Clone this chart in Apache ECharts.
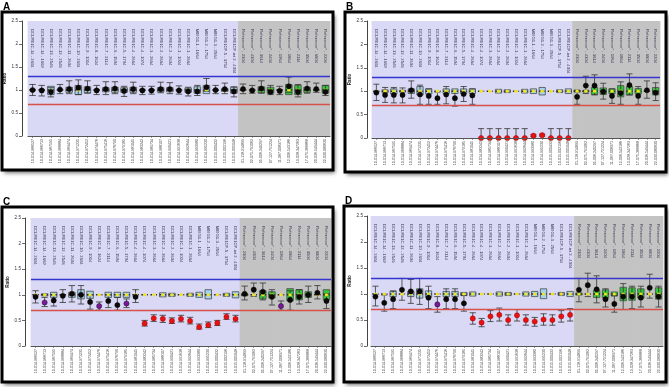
<!DOCTYPE html>
<html><head><meta charset="utf-8">
<script src="https://cdn.jsdelivr.net/npm/echarts@6/dist/echarts.min.js"></script>
<style>html,body{margin:0;padding:0;background:#fff}#c{width:669px;height:387px}</style>
</head><body><div id="c"></div><script>
// ---- categories ----
const testProbes = ['DCLRE1C-14 - 2604','DCLRE1C-14 - 1669','DCLRE1C-13 - 2546','DCLRE1C-12 - 2548','DCLRE1C-11 - 2604','DCLRE1C-10 - 2604','DCLRE1C-9 - 1014','DCLRE1C-8 - 1624','DCLRE1C-7 - 2114','DCLRE1C-6 - 1594','DCLRE1C-5 - 1794','DCLRE1C-4 - 2664','DCLRE1C-4 - 1074','DCLRE1C-3 - 2664','DCLRE1C-2 - 2664','DCLRE1C-2 - 2604','DCLRE1C-1 - 1024','DCLRE1C-1 - 2664','MEIG1-1 - 1664','MEIG1-2 - 1754','MEIG1-3 - 2564','DCLRE1CP-5 - 3754','DCLRE1CP-int 2 - 4004'];
const refProbes = ['Reference* - 2304','Reference* - 4304','Reference* - 3614','Reference* - 2404','Reference* - 1964','Reference* - 1864','Reference* - 2114','Reference* - 3504','Reference* - 6804','Reference* - 2204'];
const locations = ['10-014.966527','10-014.966713','10-014.967595','10-014.968884','10-014.969474','10-014.971235','10-014.972452','10-014.974476','10-014.975416','10-014.976790','10-014.979185','10-014.981045','10-014.983242','10-014.985734','10-014.988107','10-014.990421','10-014.991638','10-014.992644','10-014.993980','10-014.995230','10-015.000432','10-015.002196','10-015.005048','01-118.914899','02-075.791062','05-006.240297','07-127.751224','11-067.008371','12-006.543186','13-028.347263','17-075.366868','20-036.549444','22-030.080630'];
const yTicks = [0, 0.5, 1, 1.5, 2, 2.5];
const refLevel = 1;
const upperLimit = 1.3;
const lowerLimit = 0.7;

// ---- panel A ----
const aRatio   = [1.00,0.99,0.96,1.01,1.02,1.05,1.03,0.99,1.02,1.03,0.98,1.02,0.99,0.99,1.02,1.02,0.99,0.97,0.97,1.06,1.00,1.02,0.97, 1.02,0.99,1.03,0.96,0.98,1.08,0.96,1.03,1.02,0.96];
const aErrLow  = [0.88,0.87,0.85,0.92,0.92,0.90,0.93,0.90,0.90,0.92,0.86,0.92,0.90,0.91,0.94,0.92,0.91,0.87,0.88,0.97,0.92,0.92,0.85, 0.92,0.93,0.93,0.90,0.90,0.95,0.85,0.93,0.95,0.88];
const aErrHigh = [1.12,1.10,1.05,1.12,1.20,1.22,1.20,1.10,1.18,1.18,1.08,1.17,1.08,1.08,1.17,1.16,1.09,1.06,1.10,1.25,1.10,1.15,1.07, 1.13,1.10,1.20,1.10,1.08,1.28,1.12,1.18,1.15,1.10];
const aBoxLow  = [1,1,0.90,1,0.95,0.90,0.94,1,0.96,0.95,0.95,0.95,1,1,0.96,0.96,1,0.95,0.93,0.92,1,0.97,0.93, 1,1,0.94,0.93,1,0.90,0.90,0.95,1,0.93];
const aBoxHigh = [1,1,1.08,1,1.06,1.10,1.07,1,1.05,1.06,1.05,1.06,1,1,1.05,1.05,1,1.04,1.07,1.10,1,1.03,1.06, 1,1,1.07,1.06,1,1.12,1.10,1.06,1,1.10];
const aFlag    = ['k','k','k','k','k','k','k','k','k','k','k','k','k','k','k','k','k','k','k','k','k','k','k','k','k','k','k','k','k','k','k','k','k'];

// ---- panel B ----
const bRatio   = [0.97,0.92,0.92,0.92,1.02,0.93,0.90,0.85,0.93,0.85,0.94,0.91, 0,0,0,0,0,0,0.05,0.06,0,0,0, 0.88,1.12,1.12,0.99,0.90,0.96,1.13,0.90,1.02,0.97];
const bErrLow  = [0.80,0.76,0.75,0.75,0.85,0.72,0.72,0.72,0.73,0.68,0.78,0.72, 0,0,0,0,0,0,0.03,0.04,0,0,0, 0.72,0.95,0.92,0.83,0.74,0.72,0.92,0.72,0.85,0.80];
const bErrHigh = [1.15,1.08,1.08,1.07,1.22,1.13,1.05,0.98,1.10,1.00,1.10,1.05, 0.2,0.2,0.2,0.2,0.2,0.2,0.07,0.08,0.2,0.2,0.2, 1.02,1.32,1.35,1.17,1.05,1.20,1.37,1.10,1.22,1.18];
const bBoxLow  = [1,0.97,0.94,0.98,0.95,0.92,0.94,1,0.95,0.95,0.95,0.95, 1,1,0.96,0.97,1,0.96,0.95,0.92,1,0.97,0.95, 0.98,0.98,0.93,0.93,0.95,0.88,0.92,0.94,1,0.92];
const bBoxHigh = [1,1.03,1.05,1.02,1.05,1.10,1.05,1,1.05,1.05,1.05,1.05, 1,1,1.04,1.03,1,1.04,1.05,1.08,1,1.03,1.05, 1.02,1.02,1.08,1.07,1.05,1.12,1.10,1.06,1,1.08];
const bFlag    = ['k','k','k','k','k','k','k','k','k','k','k','k','r','r','r','r','r','r','r','r','r','r','r','k','k','k','k','k','k','k','k','k','k'];

// ---- panel C ----
const cRatio   = [0.96,0.85,0.89,0.98,1.02,1.00,0.86,0.78,0.88,0.80,0.83,0.96, 0.44,0.54,0.53,0.49,0.53,0.49,0.37,0.41,0.45,0.57,0.53, 1.02,1.10,1.06,0.96,0.78,0.90,0.96,1.00,1.04,0.88];
const cErrLow  = [0.84,0.77,0.78,0.85,0.86,0.82,0.72,0.70,0.75,0.70,0.75,0.85, 0.39,0.48,0.46,0.44,0.47,0.43,0.33,0.36,0.40,0.52,0.47, 0.90,0.97,0.90,0.80,0.70,0.70,0.82,0.85,0.92,0.73];
const cErrHigh = [1.08,0.95,1.00,1.10,1.18,1.18,1.00,0.86,1.00,0.95,0.92,1.10, 0.50,0.61,0.60,0.55,0.60,0.56,0.43,0.47,0.50,0.63,0.60, 1.17,1.23,1.23,1.10,0.88,1.08,1.10,1.17,1.18,1.02];
const cBoxLow  = [1,0.98,0.95,1,0.95,0.92,0.93,1,0.95,0.95,0.95,1, 1,1,0.96,0.97,1,0.97,0.95,0.92,1,0.97,0.94, 0.98,1,0.92,0.94,1,0.88,0.90,0.95,1,0.90];
const cBoxHigh = [1,1.02,1.05,1,1.05,1.10,1.07,1,1.05,1.05,1.05,1, 1,1,1.04,1.03,1,1.03,1.05,1.10,1,1.03,1.06, 1.02,1,1.08,1.06,1,1.12,1.10,1.06,1,1.10];
const cFlag    = ['k','p','k','k','k','k','k','p','k','k','p','k','r','r','r','r','r','r','r','r','r','r','r','k','k','k','k','p','k','k','k','k','k'];

// ---- panel D ----
const dRatio   = [0.95,0.83,0.90,1.08,1.05,1.05,0.93,0.80,0.90,0.90,0.82, 0.53,0.45,0.57,0.60,0.50,0.59,0.50,0.47,0.51,0.50,0.57,0.60, 1.08,1.17,1.09,0.90,0.81,0.95,0.95,0.93,1.12,0.95];
const dErrLow  = [0.77,0.67,0.72,0.88,0.82,0.80,0.72,0.65,0.72,0.72,0.67, 0.42,0.37,0.47,0.48,0.40,0.48,0.40,0.38,0.40,0.40,0.46,0.48, 0.85,0.95,0.83,0.75,0.65,0.70,0.72,0.75,0.92,0.75];
const dErrHigh = [1.15,0.98,1.06,1.30,1.28,1.30,1.15,0.95,1.10,1.10,0.97, 0.64,0.53,0.68,0.73,0.60,0.70,0.60,0.55,0.62,0.60,0.68,0.72, 1.30,1.40,1.35,1.10,0.97,1.20,1.15,1.15,1.38,1.15];
const dBoxLow  = [1,1,0.95,1,0.95,0.92,0.94,1,0.95,0.95,0.97, 0.96,1,1,0.96,0.97,1,0.96,0.95,0.91,1,0.97,0.95, 0.98,1,0.93,0.92,0.96,0.87,0.88,0.92,1,0.90];
const dBoxHigh = [1,1,1.05,1,1.05,1.10,1.06,1,1.05,1.05,1.03, 1.04,1,1,1.04,1.03,1,1.04,1.05,1.10,1,1.03,1.05, 1.02,1,1.07,1.08,1.04,1.13,1.12,1.10,1,1.12];
const dFlag    = ['k','k','k','k','k','k','k','p','k','k','k','r','r','r','r','r','r','r','r','r','r','r','r','k','k','k','k','k','k','k','k','k','k'];

const probeNames = testProbes.concat(refProbes);
const nTest = testProbes.length;

// ---- layout (positions/styles only) ----
const panels = [
  {letter:'A', frame:[2,12,331,158], grid:{left:28, top:21, width:302, height:115}, yOff:6,
   ratio:aRatio, lo:aErrLow, hi:aErrHigh, bl:aBoxLow, bh:aBoxHigh, flag:aFlag, lx:3, ly:2},
  {letter:'B', frame:[345,12,321,160], grid:{left:372, top:21, width:288, height:117}, yOff:5,
   ratio:bRatio, lo:bErrLow, hi:bErrHigh, bl:bBoxLow, bh:bBoxHigh, flag:bFlag, lx:346, ly:2},
  {letter:'C', frame:[2,207,331,175], grid:{left:31, top:218, width:300, height:128}, yOff:6,
   ratio:cRatio, lo:cErrLow, hi:cErrHigh, bl:cBoxLow, bh:cBoxHigh, flag:cFlag, lx:3, ly:197},
  {letter:'D', frame:[344,206,322,176], grid:{left:371, top:216, width:292, height:130}, yOff:4,
   ratio:dRatio, lo:dErrLow, hi:dErrHigh, bl:dBoxLow, bh:dBoxHigh, flag:dFlag, lx:345, ly:196}
];
const flagColor = {k:'#0c0808', r:'#e81010', p:'#7a1a9a'};
const yMax = yTicks[yTicks.length-1];

function renderBg(params, api){
  const i = api.value(0);
  const w = api.size([1,0])[0];
  const t = api.coord([i, yMax]), b = api.coord([i, 0]);
  return {type:'rect', shape:{x:t[0]-w/2-0.4, y:t[1], width:w+0.8, height:b[1]-t[1]},
    style:{fill: api.value(1) ? '#c3c3c3' : '#d9d9f5'}};
}
function renderBox(params, api){
  const i = api.value(0), lo = api.value(1), hi = api.value(2), isRef = api.value(3);
  const w = api.size([1,0])[0]*0.72;
  const pl = api.coord([i, lo]), ph = api.coord([i, hi]), pm = api.coord([i, refLevel]);
  const ch = [];
  if (hi - lo > 0.001) {
    ch.push({type:'rect', shape:{x:pl[0]-w/2, y:ph[1], width:w, height:pl[1]-ph[1]},
      style:{fill: isRef ? '#33c63a' : '#a3d3ec', stroke:'#4b4b4b', lineWidth:0.8}});
  }
  ch.push({type:'line', shape:{x1:pm[0]-w/2, y1:pm[1], x2:pm[0]+w/2, y2:pm[1]},
    style:{stroke:'#2a2a2a', lineWidth:1.6, lineDash:[1.6,1.2]}});
  return {type:'group', children:ch};
}
function renderErr(params, api){
  const i = api.value(0), lo = api.value(1), hi = api.value(2);
  const cw = api.size([1,0])[0]*0.7;
  const a = api.coord([i, lo]), b = api.coord([i, hi]);
  const st = {stroke:'#333', lineWidth:0.8};
  return {type:'group', children:[
    {type:'line', shape:{x1:a[0], y1:a[1], x2:b[0], y2:b[1]}, style:st},
    {type:'line', shape:{x1:a[0]-cw/2, y1:a[1], x2:a[0]+cw/2, y2:a[1]}, style:st},
    {type:'line', shape:{x1:b[0]-cw/2, y1:b[1], x2:b[0]+cw/2, y2:b[1]}, style:st}
  ]};
}

const grids = [], xAxes = [], yAxes = [], series = [], graphics = [];
panels.forEach((p, k) => {
  const [fx, fy, fw, fh] = p.frame;
  graphics.push({type:'rect', z:0, shape:{x:fx, y:fy, width:fw, height:fh},
    style:{fill:'#ffffff', shadowBlur:4, shadowOffsetX:2, shadowOffsetY:3, shadowColor:'rgba(0,0,0,0.55)'}});
  graphics.push({type:'rect', z:100, shape:{x:fx, y:fy, width:fw, height:fh},
    style:{fill:'none', stroke:'#000', lineWidth:3}});
  graphics.push({type:'text', z:100, left:p.lx, top:p.ly,
    style:{text:p.letter, fontSize:10, fontWeight:'bold', fill:'#000', fontFamily:'Liberation Sans'}});

  grids.push(Object.assign({containLabel:false}, p.grid));
  xAxes.push({type:'category', gridIndex:k, data:locations, position:'bottom', z:10,
    axisLine:{lineStyle:{color:'#555', width:1}},
    axisTick:{show:true, length:2, alignWithLabel:true, lineStyle:{color:'#555', width:0.6}},
    axisLabel:{rotate:90, fontSize:3.6, color:'#3a3a3a', margin:3, interval:0, fontFamily:'Liberation Sans'},
    splitLine:{show:false}});
  xAxes.push({type:'category', gridIndex:k, data:probeNames, position:'top', z:10,
    axisLine:{show:false}, axisTick:{show:false},
    axisLabel:{inside:true, rotate:90, fontSize:4.2, color:'#3a3a55', margin:8, interval:0, fontFamily:'Liberation Sans'},
    splitLine:{show:false}});
  yAxes.push({type:'value', gridIndex:k, min:yTicks[0], max:yMax, interval:yTicks[1]-yTicks[0], offset:p.yOff, z:10,
    axisLine:{show:true, lineStyle:{color:'#444', width:1}},
    axisTick:{show:true, length:3, lineStyle:{color:'#444', width:0.8}},
    splitLine:{show:false},
    axisLabel:{fontSize:4.6, color:'#333', margin:4, fontFamily:'Liberation Sans'},
    name:'Ratio', nameLocation:'middle', nameGap:14,
    nameTextStyle:{fontSize:4.6, fontWeight:'bold', color:'#222', fontFamily:'Liberation Sans'}});

  const xi = 2*k;
  series.push({type:'custom', xAxisIndex:xi, yAxisIndex:k, z:1, silent:true, renderItem:renderBg,
    data: probeNames.map((n, i) => [i, i >= nTest ? 1 : 0]),
    markLine:{silent:true, symbol:'none', label:{show:false},
      data:[{yAxis:upperLimit, lineStyle:{color:'#3434d0', width:1.4, type:'solid'}},
            {yAxis:lowerLimit, lineStyle:{color:'#d8504a', width:1.4, type:'solid'}}]}});
  series.push({type:'custom', xAxisIndex:xi, yAxisIndex:k, z:2, silent:true, renderItem:renderBox,
    data: probeNames.map((n, i) => [i, p.bl[i], p.bh[i], i >= nTest ? 1 : 0])});
  series.push({type:'custom', xAxisIndex:xi, yAxisIndex:k, z:3, silent:true, renderItem:renderErr,
    data: probeNames.map((n, i) => [i, p.lo[i], p.hi[i]])});
  series.push({type:'scatter', xAxisIndex:xi, yAxisIndex:k, z:4, silent:true, symbolSize:3.2,
    itemStyle:{color:'#f4e41a', opacity:1},
    data: probeNames.map((n, i) => [i, refLevel])});
  series.push({type:'scatter', xAxisIndex:xi, yAxisIndex:k, z:5, silent:true, symbolSize:5.2,
    data: probeNames.map((n, i) => ({value:[i, p.ratio[i]],
      itemStyle:{opacity:1, color:flagColor[p.flag[i]], borderColor: p.flag[i]==='r' ? '#8a0000' : '#000', borderWidth:0.4}}))});
});

const chart = echarts.init(document.getElementById('c'), null, {renderer:'canvas'});
chart.setOption({
  animation:false,
  backgroundColor:'#ffffff',
  graphic:{elements:graphics},
  grid:grids, xAxis:xAxes, yAxis:yAxes, series:series
});
</script></body></html>
